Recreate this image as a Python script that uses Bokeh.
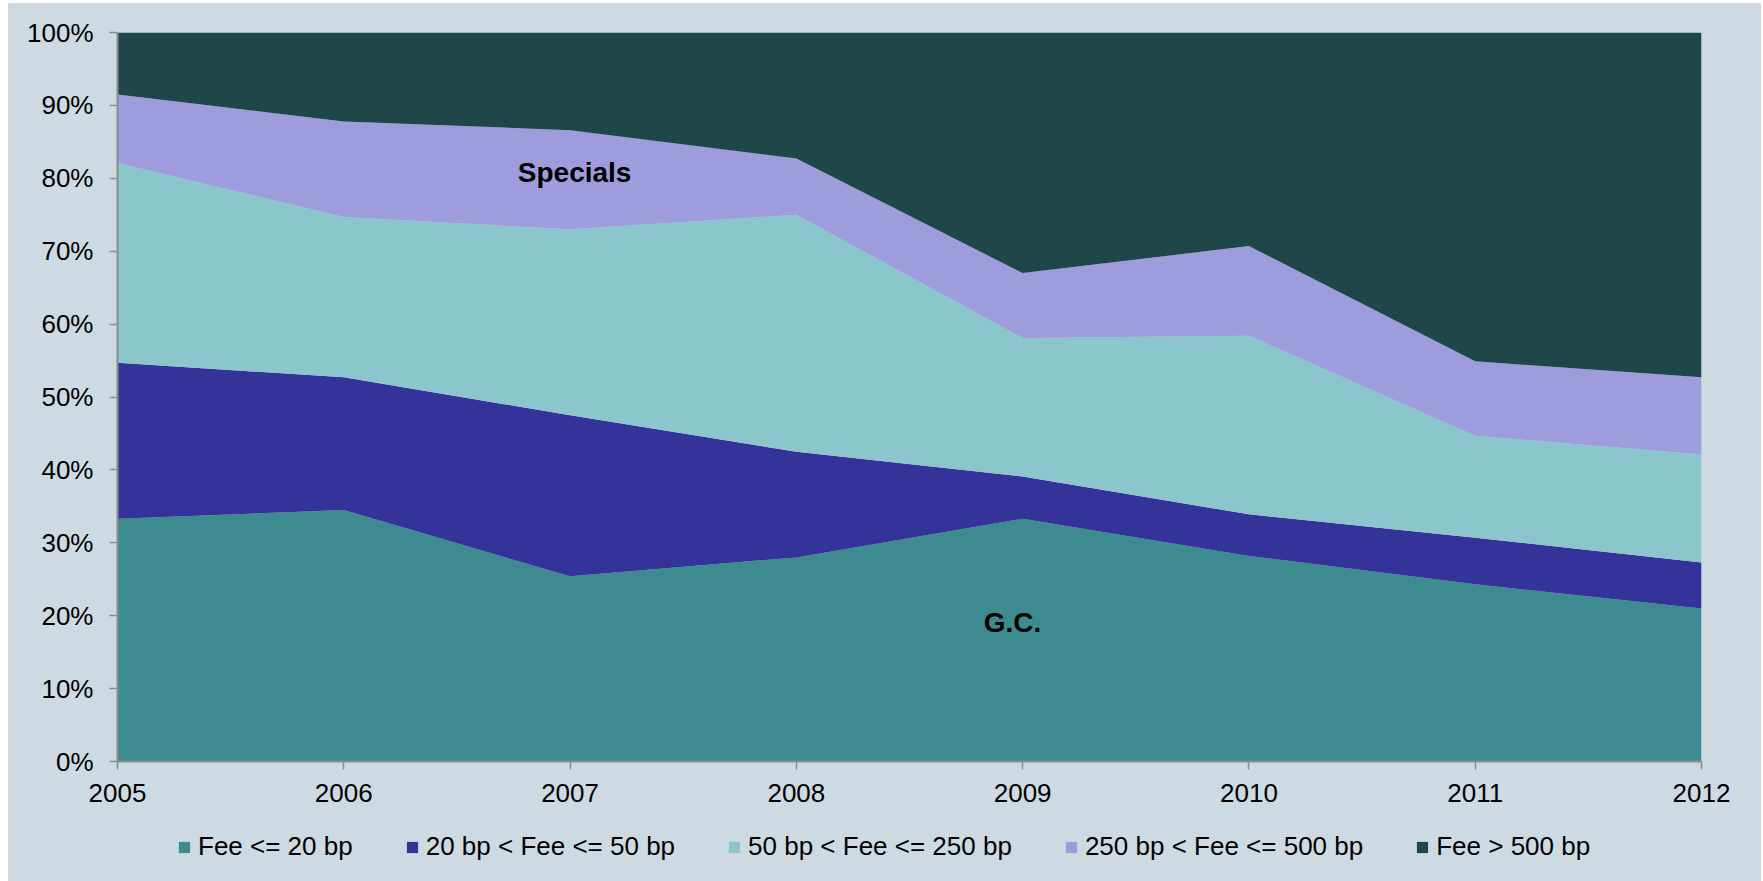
from bokeh.plotting import figure
from bokeh.layouts import column
from bokeh.models import (ColumnDataSource, Range1d, Legend, LegendItem, Label,
                          PrintfTickFormatter, FixedTicker)
from bokeh.embed import file_html
from bokeh.resources import INLINE

# ---- data (share of volume, %) ----
years = [2005, 2006, 2007, 2008, 2009, 2010, 2011, 2012]
fee_le_20 = [33.3, 34.5, 25.4, 28.0, 33.3, 28.2, 24.3, 21.0]
fee_20_50 = [21.4, 18.2, 22.1, 14.5, 5.8, 5.7, 6.4, 6.3]
fee_50_250 = [27.4, 22.0, 25.5, 32.5, 19.0, 24.5, 14.0, 14.8]
fee_250_500 = [9.4, 13.1, 13.6, 7.7, 8.9, 12.3, 10.2, 10.6]
fee_gt_500 = [8.5, 12.2, 13.4, 17.3, 33.0, 29.3, 45.1, 47.3]

series_labels = ["Fee <= 20 bp", "20 bp < Fee <= 50 bp", "50 bp < Fee <= 250 bp",
                 "250 bp < Fee <= 500 bp", "Fee > 500 bp"]
colors = ["#3D8B91", "#333399", "#8BC6CD", "#9F9CDD", "#1F474A"]
y_ticks = [0, 10, 20, 30, 40, 50, 60, 70, 80, 90, 100]

keys = ["s1", "s2", "s3", "s4", "s5"]
src = ColumnDataSource(dict(year=years, s1=fee_le_20, s2=fee_20_50, s3=fee_50_250,
                            s4=fee_250_500, s5=fee_gt_500))

BG = "#CDDAE2"
FONT = "Liberation Sans"

p = figure(width=1753, height=812, output_backend="svg", toolbar_location=None,
           x_range=Range1d(2005, 2012), y_range=Range1d(0, 100),
           min_border_left=109, min_border_right=60, min_border_top=29,
           min_border_bottom=54)
p.background_fill_color = BG
p.border_fill_color = BG
p.outline_line_color = None
p.grid.visible = False

rends = p.varea_stack(keys, x="year", color=colors, source=src)

# axes
p.xaxis.ticker = FixedTicker(ticks=years)
p.yaxis.ticker = FixedTicker(ticks=y_ticks)
p.yaxis.formatter = PrintfTickFormatter(format="%d%%")
for ax in (p.xaxis[0], p.yaxis[0]):
    ax.axis_line_color = "#8C8C8C"
    ax.axis_line_width = 2
    ax.major_tick_line_color = "#8C8C8C"
    ax.major_tick_line_width = 1.5
    ax.major_tick_out = 8
    ax.major_tick_in = 0
    ax.minor_tick_line_color = None
    ax.major_label_text_font = FONT
    ax.major_label_text_font_size = "26px"
    ax.major_label_text_color = "#000000"
p.xaxis.major_label_standoff = 14
p.yaxis.major_label_standoff = 16

# in-chart labels
for txt, xx, yy in [("Specials", 2007.02, 80.8), ("G.C.", 2008.955, 19.1)]:
    p.add_layout(Label(x=xx, y=yy, text=txt, text_align="center", text_baseline="middle",
                       text_font=FONT, text_font_style="bold", text_font_size="28px",
                       text_color="#000000"))

# legend strip below the chart
p2 = figure(width=1753, height=66, output_backend="svg", toolbar_location=None,
            x_range=Range1d(0, 1), y_range=Range1d(0, 1),
            x_axis_type=None, y_axis_type=None,
            min_border_left=0, min_border_right=0, min_border_top=0, min_border_bottom=0)
p2.background_fill_color = None
p2.border_fill_color = BG
p2.outline_line_color = None
p2.grid.visible = False
dummies = []
for c in colors:
    dummies.append(p2.varea(x=[0, 1], y1=[0, 0], y2=[0, 0], color=c))

legend = Legend(items=[LegendItem(label=l, renderers=[r]) for l, r in zip(series_labels, dummies)],
                orientation="horizontal", location=(60, 19),
                glyph_width=14, glyph_height=14, label_standoff=7, spacing=52,
                padding=0, margin=0, border_line_color=None,
                background_fill_alpha=0,
                label_text_font=FONT, label_text_font_size="26px",
                label_text_color="#000000")
p2.add_layout(legend)

layout = column(p, p2, spacing=0,
                styles={"margin-left": "8px", "margin-top": "3px", "background-color": BG})
open("out.html", "w").write(file_html(layout, INLINE))
